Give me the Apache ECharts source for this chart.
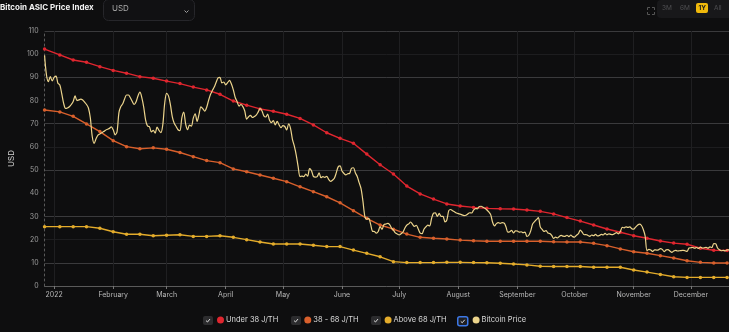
<!DOCTYPE html>
<html>
<head>
<meta charset="utf-8">
<title>Bitcoin ASIC Price Index</title>
<script src="https://cdn.jsdelivr.net/npm/echarts@6/dist/echarts.min.js"></script>
<style>
  html, body { margin: 0; padding: 0; background: #0e0e0f; }
  #chart { width: 729px; height: 332px; }
</style>
</head>
<body>
<div id="chart"></div>
<script>
// Daily axis runs from this date for priceDays days
const axisStart = '2021-12-27';
const priceDays = 360;

// Bitcoin price (USD), one value per day starting at axisStart
const bitcoinPrice = [
  99.5, 91.0, 88.2, 90.3, 88.5, 90.0, 90.5, 87.5, 86.7, 83.0,
  78.8, 76.6, 76.8, 77.3, 78.3, 79.6, 82.0, 80.0, 80.3, 80.6,
  80.2, 79.3, 78.3, 76.8, 72.5, 64.5, 61.5, 63.5, 65.1, 65.6,
  66.1, 66.6, 67.2, 67.6, 68.0, 68.6, 67.4, 65.2, 66.5, 74.8,
  77.4, 78.6, 80.8, 82.4, 82.4, 81.2, 79.6, 78.3, 79.5, 82.0,
  83.6, 81.3, 77.2, 71.6, 69.0, 68.7, 66.5, 67.1, 65.9, 68.5,
  67.1, 66.2, 69.5, 78.8, 83.1, 82.0, 78.2, 73.0, 70.2, 68.8,
  67.4, 67.0, 72.5, 75.0, 69.8, 67.4, 69.4, 69.0, 72.4, 74.3,
  71.0, 74.0, 77.3, 76.5, 75.4, 77.0, 80.0, 82.6, 84.3, 85.8,
  87.9, 89.8, 90.0, 87.6, 88.0, 86.8, 87.7, 88.7, 87.1, 84.6,
  81.3, 79.5, 77.6, 78.3, 77.4, 75.5, 72.0, 73.0, 73.6, 72.7,
  73.1, 73.7, 75.0, 76.5, 75.6, 73.4, 72.9, 74.2, 71.5, 70.5,
  71.4, 69.5, 71.0, 69.5, 68.3, 69.2, 68.8, 67.3, 70.0, 68.0,
  63.3, 60.3, 56.5, 51.5, 47.2, 47.4, 47.2, 48.3, 47.4, 50.6,
  49.7, 47.3, 47.0, 47.2, 48.8, 46.7, 47.2, 46.9, 47.3, 46.0,
  45.1, 45.6, 46.5, 48.8, 51.4, 51.8, 49.6, 48.6, 47.9, 48.4,
  48.6, 50.8, 51.0, 48.9, 47.2, 44.6, 42.0, 36.5, 30.0, 28.8,
  29.2, 26.7, 23.6, 23.5, 22.8, 23.5, 25.6, 24.4, 26.5, 26.7,
  27.0, 26.5, 25.0, 24.1, 22.9, 22.4, 22.0, 22.5, 23.3, 25.0,
  26.3, 26.8, 27.6, 26.6, 25.7, 26.2, 24.6, 22.8, 22.6, 24.5,
  25.5, 26.3, 25.9, 29.2, 31.4, 31.6, 30.0, 31.3, 30.0, 30.0,
  27.7, 28.5, 32.5, 33.0, 32.5, 32.0, 31.5, 31.2, 31.0, 30.7,
  30.4, 30.5, 31.1, 31.6, 31.5, 32.7, 33.4, 33.3, 34.3, 34.4,
  34.0, 33.5, 32.8, 32.0, 30.8, 27.5, 25.9, 26.9, 27.3, 27.0,
  27.3, 27.2, 25.6, 23.2, 23.4, 24.0, 22.9, 23.8, 23.7, 23.2,
  23.4, 23.0, 23.2, 21.4, 21.9, 23.8, 26.8, 27.8, 28.6, 29.5,
  25.5, 24.4, 23.5, 23.9, 22.9, 22.6, 21.8, 20.5, 21.1, 20.7,
  21.4, 21.8, 21.5, 21.4, 21.9, 21.3, 22.0, 21.3, 21.1, 21.9,
  22.6, 24.1, 23.2, 22.1, 22.2, 21.8, 21.4, 22.0, 21.7, 22.3,
  21.6, 21.8, 22.3, 22.0, 22.7, 22.1, 22.5, 22.3, 22.2, 22.6,
  23.0, 22.5, 23.5, 25.3, 25.1, 25.5, 25.3, 25.5, 24.7, 24.5,
  25.4, 26.2, 26.7, 26.2, 24.5, 21.6, 15.3, 15.8, 15.5, 14.9,
  15.6, 15.5, 15.6, 16.1, 15.8, 14.8, 15.6, 15.7, 15.1, 14.5,
  15.1, 15.4, 15.1, 15.2, 15.3, 15.4, 15.2, 14.9, 16.4, 16.5,
  16.6, 16.3, 16.6, 16.2, 16.8, 16.4, 16.5, 16.7, 16.3, 16.9,
  16.5, 18.3, 18.2, 16.4, 15.6, 15.2, 15.4, 15.1, 15.6, 15.6
];

// Weekly ASIC price index dates
const asicDates = [
  '2021-12-27',
  '2022-01-04', '2022-01-11', '2022-01-18', '2022-01-25',
  '2022-02-01', '2022-02-08', '2022-02-15', '2022-02-22',
  '2022-03-01', '2022-03-08', '2022-03-15', '2022-03-22', '2022-03-29',
  '2022-04-05', '2022-04-12', '2022-04-19', '2022-04-26',
  '2022-05-03', '2022-05-10', '2022-05-17', '2022-05-24', '2022-05-31',
  '2022-06-07', '2022-06-14', '2022-06-21', '2022-06-28',
  '2022-07-05', '2022-07-12', '2022-07-19', '2022-07-26',
  '2022-08-02', '2022-08-09', '2022-08-16', '2022-08-23', '2022-08-30',
  '2022-09-06', '2022-09-13', '2022-09-20', '2022-09-27',
  '2022-10-04', '2022-10-11', '2022-10-18', '2022-10-25',
  '2022-11-01', '2022-11-08', '2022-11-15', '2022-11-22', '2022-11-29',
  '2022-12-06', '2022-12-13', '2022-12-20'
];

// USD per TH/s, by efficiency tier
const under38 = [
  102.2, 99.7, 97.5, 96.5, 94.6, 93.0, 91.8, 90.3, 89.6, 88.4,
  87.3, 85.8, 84.6, 82.7, 79.8, 78.0, 76.4, 75.4, 74.1, 72.3,
  69.5, 66.1, 63.7, 61.6, 56.9, 52.3, 48.3, 43.1, 39.7, 37.5,
  35.4, 34.5, 33.9, 33.5, 33.3, 33.2, 32.8, 32.2, 31.1, 29.5,
  28.0, 26.3, 24.6, 23.2, 21.7, 20.6, 19.4, 18.5, 18.0, 16.3,
  15.4, 15.3
];
const mid38to68 = [
  75.9, 75.1, 73.2, 69.9, 66.6, 62.7, 60.1, 59.2, 59.6, 59.0,
  57.6, 55.8, 54.1, 53.2, 50.5, 49.3, 47.9, 46.5, 45.0, 42.8,
  40.7, 38.5, 35.9, 32.5, 29.2, 26.3, 24.5, 22.4, 21.0, 20.6,
  20.3, 19.8, 19.5, 19.3, 19.3, 19.3, 19.3, 19.3, 19.1, 19.0,
  19.0, 18.4, 17.4, 16.0, 14.8, 14.1, 13.1, 12.1, 10.9, 10.2,
  9.9, 9.9
];
const above68 = [
  25.6, 25.6, 25.6, 25.6, 24.9, 23.4, 22.3, 22.3, 21.7, 21.9,
  22.1, 21.4, 21.4, 21.7, 21.0, 20.0, 19.0, 18.1, 18.1, 18.1,
  17.6, 17.0, 17.0, 15.5, 14.1, 12.6, 10.5, 10.1, 10.1, 10.1,
  10.2, 10.2, 10.1, 10.0, 9.8, 9.5, 9.1, 8.5, 8.4, 8.4,
  8.4, 8.1, 8.1, 8.1, 6.9, 6.0, 5.0, 4.0, 3.7, 3.7,
  3.7, 3.7
];

const monthNames = ['January', 'February', 'March', 'April', 'May', 'June',
  'July', 'August', 'September', 'October', 'November', 'December'];

// Daily category axis
const days = [];
{
  const t0 = Date.parse(axisStart + 'T00:00:00Z');
  for (let i = 0; i < priceDays; i++) {
    days.push(new Date(t0 + i * 86400000).toISOString().slice(0, 10));
  }
}
const isMonthStart = (idx, val) => val.slice(8) === '01';

// Place weekly values on the daily axis
function weekly(values) {
  const out = new Array(days.length).fill(null);
  asicDates.forEach((d, k) => {
    const idx = days.indexOf(d);
    if (idx >= 0) out[idx] = values[k];
  });
  return out;
}

const COLORS = {
  under: '#e0262f',
  mid: '#d9602c',
  above: '#e4ac2b',
  price: '#ecd48c'
};

const chart = echarts.init(document.getElementById('chart'), null, { renderer: 'canvas' });

function checkbox(x, y, active) {
  return {
    type: 'group',
    left: x, top: y,
    children: [
      {
        type: 'rect',
        shape: { x: 0, y: 0, width: 10, height: 9, r: 2 },
        style: active
          ? { fill: '#1f1f22', stroke: '#3d78e6', lineWidth: 1.5 }
          : { fill: '#2c2c2e' }
      },
      {
        type: 'polyline',
        shape: { points: [[3, 4.6], [4.5, 6], [7, 3]] },
        style: { stroke: '#d8d8d8', lineWidth: 1, fill: null }
      }
    ]
  };
}

const option = {
  backgroundColor: '#0e0e0f',
  animation: false,
  textStyle: { fontFamily: 'Inter, Roboto, sans-serif' },
  grid: { left: 32, right: 0, top: 31, bottom: 46 },
  legend: {
    top: 316,
    left: 217,
    padding: 0,
    icon: 'circle',
    itemWidth: 7,
    itemHeight: 7,
    itemGap: 26,
    textStyle: { color: '#dcdcdc', fontSize: 7.5, fontFamily: 'Inter, Roboto, sans-serif', padding: [0, 0, 0, -3] },
    data: ['Under 38 J/TH', '38 - 68 J/TH', 'Above 68 J/TH', 'Bitcoin Price']
  },
  xAxis: {
    type: 'category',
    data: days,
    boundaryGap: false,
    axisLine: { lineStyle: { color: '#5a5a5a', width: 1 } },
    axisTick: { interval: isMonthStart, length: 3, lineStyle: { color: '#777' } },
    axisLabel: {
      interval: isMonthStart,
      color: '#b8b8b8',
      fontSize: 7,
      margin: 5,
      formatter: (v) => {
        const m = parseInt(v.slice(5, 7), 10) - 1;
        return m === 0 ? v.slice(0, 4) : monthNames[m];
      }
    },
    splitLine: { show: true, interval: isMonthStart, lineStyle: { color: '#1f1f21', width: 1 } }
  },
  yAxis: {
    type: 'value',
    min: 0,
    max: 110,
    interval: 10,
    name: 'USD',
    nameLocation: 'middle',
    nameGap: 21,
    nameRotate: 90,
    nameTextStyle: { color: '#cfcfcf', fontSize: 8 },
    axisLine: { show: true, lineStyle: { color: '#5a5a5a', type: [2, 3] } },
    axisTick: { show: false },
    axisLabel: { color: '#9c9c9c', fontSize: 7, margin: 6 },
    splitLine: { show: true, lineStyle: { color: ['#0e0e0f', '#3a3a3c', '#1d1d1f', '#3a3a3c'], width: 1 } }
  },
  series: [
    {
      name: 'Under 38 J/TH', type: 'line', data: weekly(under38), connectNulls: true,
      showAllSymbol: true, symbol: 'circle', symbolSize: 3.5,
      itemStyle: { color: COLORS.under }, lineStyle: { color: COLORS.under, width: 1.4 }, z: 3
    },
    {
      name: '38 - 68 J/TH', type: 'line', data: weekly(mid38to68), connectNulls: true,
      showAllSymbol: true, symbol: 'circle', symbolSize: 3.5,
      itemStyle: { color: COLORS.mid }, lineStyle: { color: COLORS.mid, width: 1.4 }, z: 3
    },
    {
      name: 'Above 68 J/TH', type: 'line', data: weekly(above68), connectNulls: true,
      showAllSymbol: true, symbol: 'circle', symbolSize: 3.5,
      itemStyle: { color: COLORS.above }, lineStyle: { color: COLORS.above, width: 1.4 }, z: 3
    },
    {
      name: 'Bitcoin Price', type: 'line', data: bitcoinPrice, showSymbol: false, smooth: 0.3,
      itemStyle: { color: COLORS.price }, lineStyle: { color: COLORS.price, width: 1.2 }, z: 4
    }
  ],
  graphic: [
    {
      type: 'text', left: 0, top: 4,
      style: { text: 'Bitcoin ASIC Price Index', fill: '#f2f2f2', font: 'bold 8px Inter, Roboto, sans-serif' }
    },
    {
      type: 'rect', left: 103, top: -1,
      shape: { width: 91, height: 21, r: 5 },
      style: { fill: '#111113', stroke: '#26262a', lineWidth: 1 }
    },
    {
      type: 'text', left: 112, top: 5,
      style: { text: 'USD', fill: '#a9a9a9', font: '8px Inter, Roboto, sans-serif' }
    },
    {
      type: 'polyline', left: 182, top: 8,
      shape: { points: [[0, 0], [2, 2], [4, 0]] },
      style: { stroke: '#a0a0a0', lineWidth: 1, fill: null }
    },
    // fullscreen icon
    {
      type: 'group', left: 645, top: 5,
      children: [
        { type: 'polyline', shape: { points: [[0, 2.5], [0, 0], [2.5, 0]] }, style: { stroke: '#555', lineWidth: 1, fill: null } },
        { type: 'polyline', shape: { points: [[4.5, 0], [7, 0], [7, 2.5]] }, style: { stroke: '#555', lineWidth: 1, fill: null } },
        { type: 'polyline', shape: { points: [[0, 4.5], [0, 7], [2.5, 7]] }, style: { stroke: '#555', lineWidth: 1, fill: null } },
        { type: 'polyline', shape: { points: [[4.5, 7], [7, 7], [7, 4.5]] }, style: { stroke: '#555', lineWidth: 1, fill: null } }
      ]
    },
    // range buttons
    {
      type: 'rect', left: 657, top: 0,
      shape: { width: 80, height: 18, r: 4 },
      style: { fill: '#18181a' }
    },
    {
      type: 'rect', left: 696, top: 3,
      shape: { width: 12, height: 10, r: 2 },
      style: { fill: '#f0b90b' }
    },
    { type: 'text', left: 662, top: 5, style: { text: '3M', fill: '#4f4f52', font: '6.5px Inter, Roboto, sans-serif' } },
    { type: 'text', left: 680, top: 5, style: { text: '6M', fill: '#4f4f52', font: '6.5px Inter, Roboto, sans-serif' } },
    { type: 'text', left: 698.5, top: 5, style: { text: '1Y', fill: '#1a1a1a', font: 'bold 6.5px Inter, Roboto, sans-serif' } },
    { type: 'text', left: 714, top: 5, style: { text: 'All', fill: '#4f4f52', font: '6.5px Inter, Roboto, sans-serif' } },
    checkbox(203, 316, false),
    checkbox(291, 316, false),
    checkbox(371, 316, false),
    checkbox(457, 316, true)
  ]
};

chart.setOption(option);
</script>
</body>
</html>
